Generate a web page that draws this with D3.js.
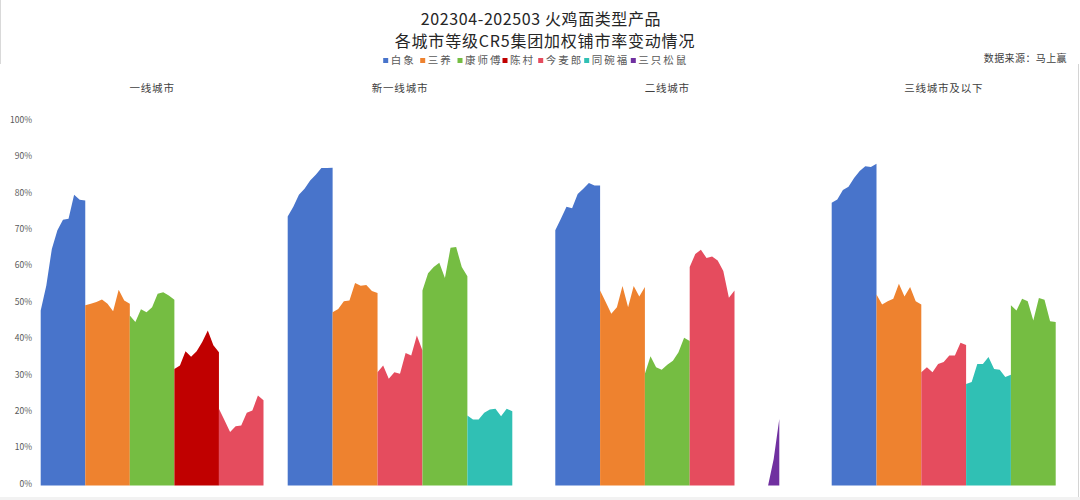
<!DOCTYPE html>
<html>
<head>
<meta charset="utf-8">
<script src="https://cdn.jsdelivr.net/npm/d3@7/dist/d3.min.js"></script>
<style>
  html, body { margin: 0; padding: 0; background: #fff; }
  svg { display: block; }
  text { font-family: "Noto Sans CJK SC", "Noto Sans", sans-serif; }
</style>
</head>
<body>
<svg id="chart" width="1080" height="500"></svg>
<script>
// ---------------- DATA ----------------
const titleLines = ["202304-202503 火鸡面类型产品", "各城市等级CR5集团加权铺市率变动情况"];
const sourceText = "数据来源：马上赢";
const legendBrands = ["白象", "三养", "康师傅", "陈村", "今麦郎", "同碗福", "三只松鼠"];
const cityTiers = ["一线城市", "新一线城市", "二线城市", "三线城市及以下"];
const yTickValues = [0, 10, 20, 30, 40, 50, 60, 70, 80, 90, 100];
const yTickLabels = ["0%", "10%", "20%", "30%", "40%", "50%", "60%", "70%", "80%", "90%", "100%"];

// brand order inside each city tier panel
const tier1Brands = ["白象", "三养", "康师傅", "陈村", "今麦郎"];
const tier2Brands = ["白象", "三养", "今麦郎", "康师傅", "同碗福"];
const tier3Brands = ["白象", "三养", "康师傅", "今麦郎", "三只松鼠"];
const tier4Brands = ["白象", "三养", "今麦郎", "同碗福", "康师傅"];

// weighted distribution rate (%) per brand, 9 periods each
const tier1Values = [
  [48.1, 54.9, 65.0, 70.1, 73.0, 73.3, 79.9, 78.5, 78.3],
  [49.5, 49.9, 50.4, 51.1, 49.9, 47.9, 53.8, 50.8, 49.9],
  [46.7, 44.9, 48.4, 47.6, 49.0, 52.7, 53.1, 52.2, 51.0],
  [32.0, 33.0, 36.9, 35.4, 36.9, 39.4, 42.6, 38.5, 36.6],
  [21.1, 17.9, 14.7, 16.3, 16.5, 20.0, 20.6, 24.7, 23.4]
];
const tier2Values = [
  [73.9, 76.6, 79.9, 81.5, 83.8, 85.4, 87.2, 87.2, 87.3],
  [47.6, 48.5, 50.6, 50.8, 55.6, 54.9, 55.1, 53.4, 52.9],
  [31.1, 33.0, 29.3, 31.1, 30.7, 36.4, 35.7, 41.2, 37.1],
  [53.6, 58.3, 60.0, 61.2, 57.0, 65.3, 65.5, 60.0, 57.5],
  [19.2, 18.1, 18.1, 20.0, 20.9, 21.1, 19.0, 21.1, 20.4]
];
const tier3Values = [
  [70.1, 73.3, 76.6, 76.2, 80.1, 81.5, 83.1, 82.4, 82.4],
  [53.6, 50.4, 47.2, 49.0, 54.8, 49.0, 54.8, 51.9, 54.5],
  [30.7, 35.5, 32.5, 31.8, 33.2, 34.3, 36.6, 40.6, 39.7],
  [60.0, 63.6, 64.8, 62.5, 62.9, 61.8, 58.9, 51.6, 53.6],
  [null, null, null, null, null, null, 0, 7.3, 18.3]
];
const tier4Values = [
  [77.7, 78.6, 81.2, 82.1, 84.5, 86.4, 87.7, 87.5, 88.4],
  [52.5, 49.7, 50.6, 51.3, 55.4, 51.9, 54.5, 50.6, 49.7],
  [31.1, 32.5, 31.1, 33.4, 33.9, 35.7, 35.7, 39.2, 38.6],
  [27.9, 28.4, 33.4, 33.4, 35.3, 32.0, 31.8, 29.8, 30.4],
  [49.5, 48.1, 51.3, 50.6, 45.3, 51.5, 51.0, 45.1, 44.9]
];

// ---------------- STYLE / LAYOUT ----------------
const brandColor = {
  "白象": "#4874CB", "三养": "#EE822F", "康师傅": "#75BD42", "陈村": "#C00000",
  "今麦郎": "#E54C5E", "同碗福": "#30C0B4", "三只松鼠": "#7030A0"
};
const panels = [
  { title: cityTiers[0], brands: tier1Brands, values: tier1Values, x0: 40.7, x1: 263.5, axis: true },
  { title: cityTiers[1], brands: tier2Brands, values: tier2Values, x0: 287.7, x1: 512.3, axis: false },
  { title: cityTiers[2], brands: tier3Brands, values: tier3Values, x0: 555.3, x1: 779.3, axis: false },
  { title: cityTiers[3], brands: tier4Brands, values: tier4Values, x0: 831.7, x1: 1055.7, axis: false }
];

const svg = d3.select("#chart");
svg.append("rect").attr("width", 1080).attr("height", 500).attr("fill", "#fff");

// frame pieces
svg.append("line").attr("x1", 0.5).attr("x2", 0.5).attr("y1", 0).attr("y2", 64)
  .attr("stroke", "#d9d9d9").attr("stroke-width", 1);
svg.append("line").attr("x1", 1078.5).attr("x2", 1078.5).attr("y1", 64).attr("y2", 497)
  .attr("stroke", "#d4d4d4").attr("stroke-width", 1);
svg.append("rect").attr("x", 0).attr("y", 497).attr("width", 1080).attr("height", 3).attr("fill", "#f2f2f2");

// titles
svg.selectAll("text.title").data(titleLines).enter().append("text")
  .attr("class", "title")
  .attr("x", (d, i) => i === 0 ? 541 : 545)
  .attr("y", (d, i) => i === 0 ? 19 : 41.5)
  .attr("dy", "0.35em")
  .attr("text-anchor", "middle")
  .attr("font-size", 16)
  .attr("letter-spacing", (d, i) => i === 0 ? "0.6px" : "0.8px")
  .attr("fill", "#262626")
  .text(d => d);

// source
svg.append("text").attr("x", 1067).attr("y", 58).attr("dy", "0.35em")
  .attr("text-anchor", "end").attr("font-size", 10).attr("letter-spacing", "0.4px")
  .attr("fill", "#404040").text(sourceText);

// legend
const legendX = [385.7, 422.7, 460, 505, 540.7, 586.7, 633.3];
const lg = svg.append("g");
legendBrands.forEach((b, i) => {
  const g = lg.append("g").attr("transform", `translate(${legendX[i]},60.5)`);
  g.append("rect").attr("x", -2.5).attr("y", -2.5).attr("width", 5).attr("height", 5)
    .attr("fill", brandColor[b]);
  g.append("text").attr("x", 5).attr("y", 0).attr("dy", "0.35em")
    .attr("font-size", 10.5).attr("letter-spacing", "2px").attr("fill", "#595959").text(b);
});

// y scale shared
const y = d3.scaleLinear().domain([0, 100]).range([485.5, 121.5]);

panels.forEach(p => {
  const nB = p.brands.length;
  const per = 8; // intervals per brand
  const x = d3.scaleLinear().domain([0, nB * per]).range([p.x0, p.x1]);
  const g = svg.append("g");

  g.append("text").attr("x", (p.x0 + p.x1) / 2).attr("y", 88).attr("dy", "0.35em")
    .attr("text-anchor", "middle").attr("font-size", 10.5).attr("letter-spacing", "0.8px")
    .attr("fill", "#404040").text(p.title);

  p.brands.forEach((b, bi) => {
    const area = d3.area()
      .defined(d => d != null)
      .x((d, i) => x(bi * per + i))
      .y0(y(0))
      .y1(d => y(d));
    g.append("path").datum(p.values[bi])
      .attr("d", area)
      .attr("fill", brandColor[b]);
  });

  if (p.axis) {
    const ax = d3.axisLeft(y).tickValues(yTickValues)
      .tickFormat((d, i) => yTickLabels[i]).tickSize(0).tickPadding(0);
    const ag = svg.append("g").attr("transform", "translate(32,0)").call(ax);
    ag.select(".domain").remove();
    ag.selectAll("text").attr("font-family", "'Liberation Sans', Arial, sans-serif")
      .attr("font-size", 8.5).attr("fill", "#595959").attr("dy", "0.1em");
  }
});
</script>
</body>
</html>
